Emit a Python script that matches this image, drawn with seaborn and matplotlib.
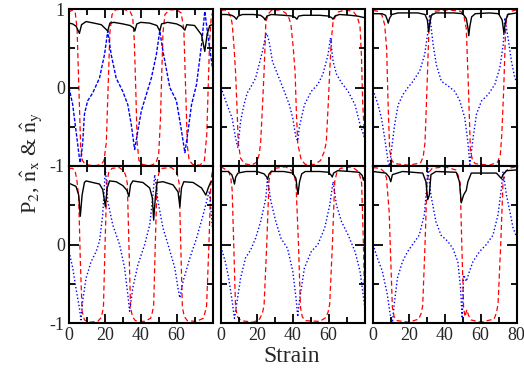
import pandas as pd
import seaborn as sns
import matplotlib
matplotlib.use("Agg")
import matplotlib.pyplot as plt
from matplotlib.ticker import MultipleLocator

# ---- painel (a): cima, esquerda ----
strain_p2_a = [0, 2, 4, 5.8, 7, 9.5, 14, 18, 19.8, 21.6, 22.8, 25, 30, 34, 36, 36.7, 37.8, 40, 45, 49,
               50.6, 51.6, 55, 60, 62.7, 64.6, 65.6, 70, 73.9, 75.7, 77, 78.5, 80]
p2_a = [0.82, 0.81, 0.78, 0.69, 0.8, 0.84, 0.82, 0.8, 0.76, 0.72, 0.82, 0.83, 0.81, 0.79, 0.76, 0.72, 0.81, 0.83, 0.82, 0.79,
        0.72, 0.81, 0.83, 0.81, 0.78, 0.73, 0.8, 0.79, 0.67, 0.46, 0.68, 0.79, 0.8]
strain_nx_a = [0, 2, 3.5, 4.5, 5.5, 6.5, 7.5, 9, 14, 18, 19.5, 20.8, 21.8, 22.8, 24, 26, 30, 34, 35.5, 36.4,
               37.2, 38, 39, 41, 45, 48.5, 50, 51, 51.6, 52.4, 53.5, 56, 60, 62.5, 64, 65, 66, 67, 69, 73,
               75.5, 76.8, 77.6, 78.4, 79.3, 80]
nx_a = [0.96, 0.99, 0.95, 0.75, 0.0, -0.75, -0.93, -0.98, -1.0, -0.98, -0.93, -0.7, 0.0, 0.7, 0.93, 0.99, 1.0, 0.97, 0.9, 0.6,
        0.0, -0.7, -0.93, -0.98, -1.0, -0.96, -0.85, -0.4, 0.1, 0.7, 0.93, 0.99, 0.99, 0.95, 0.75, 0.0, -0.75, -0.93, -0.98, -0.99,
        -0.93, -0.6, 0.0, 0.6, 0.9, 0.95]
strain_ny_a = [0, 2, 3.9, 5.8, 6.3, 7.6, 8.6, 10.4, 13.2, 17, 19.8, 21.6, 23.5, 26.3, 30, 32.8, 34.7, 36.6, 38.4, 40.3,
               43.1, 45.9, 48.7, 50.6, 52.4, 56.2, 59.9, 62.7, 64.6, 66.4, 68.3, 71.1, 73.9, 75.7, 77.5, 80]
ny_a = [0.0, -0.21, -0.55, -0.9, -0.96, -0.72, -0.34, -0.17, -0.07, 0.12, 0.42, 0.72, 0.42, 0.12, -0.05, -0.22, -0.47, -0.79, -0.55, -0.3,
        -0.09, 0.12, 0.42, 0.72, 0.46, 0.0, -0.17, -0.55, -0.83, -0.55, -0.22, 0.04, 0.55, 0.97, 0.65, 0.25]

# ---- painel (b): cima, meio ----
strain_p2_b = [0, 3, 6, 7.5, 8.6, 9.6, 12, 18, 22, 23.8, 24.6, 25.6, 28, 35, 40, 41.5, 42.3, 43.3, 46, 55,
               60, 61.7, 62.5, 63.5, 66, 72, 76, 78, 80]
p2_b = [0.93, 0.93, 0.92, 0.9, 0.87, 0.91, 0.93, 0.93, 0.92, 0.89, 0.86, 0.91, 0.93, 0.92, 0.91, 0.89, 0.87, 0.91, 0.92, 0.92,
        0.91, 0.89, 0.87, 0.91, 0.93, 0.92, 0.91, 0.9, 0.89]
strain_nx_b = [0, 2, 4, 5.5, 6.3, 7.3, 8.1, 9.0, 9.6, 10.9, 13, 17, 20, 21.3, 22.1, 23.2, 24, 24.5, 25, 26.5,
               28, 33, 36, 38, 39, 40.3, 41.3, 42, 42.8, 44.7, 47, 52, 55.5, 57.5, 58.7, 59.8, 60.6, 61.5, 62.5, 65,
               70, 74, 76, 77.5, 78.3, 79, 80]
nx_b = [0.98, 0.99, 0.96, 0.9, 0.8, 0.5, 0.2, -0.3, -0.7, -0.9, -0.97, -0.99, -0.95, -0.85, -0.7, -0.2, 0.2, 0.5, 0.84, 0.94,
        0.98, 0.99, 0.95, 0.88, 0.8, 0.5, 0.2, -0.3, -0.72, -0.92, -0.98, -0.98, -0.93, -0.82, -0.7, -0.2, 0.2, 0.6, 0.84, 0.96,
        0.99, 0.96, 0.9, 0.78, 0.4, -0.2, -0.64]
strain_ny_b = [0, 3.4, 6.2, 8.1, 9.4, 10.9, 12.8, 14.6, 16.5, 19.3, 21.2, 23.1, 25, 25.5, 26.8, 28.7, 31.5, 35.3, 38.1, 40,
               41.8, 42.8, 43.7, 46.5, 50.3, 54, 56.8, 59.7, 61, 62.5, 64.4, 67.2, 70.9, 74.7, 77.5, 80]
ny_b = [0.0, -0.22, -0.39, -0.64, -0.77, -0.43, -0.22, -0.07, 0.0, 0.12, 0.29, 0.46, 0.67, 0.69, 0.59, 0.33, 0.17, -0.05, -0.22, -0.39,
        -0.64, -0.68, -0.5, -0.22, -0.05, 0.04, 0.17, 0.42, 0.63, 0.33, 0.17, 0.06, -0.05, -0.22, -0.47, -0.64]

# ---- painel (c): cima, direita ----
strain_p2_c = [0, 5, 7, 8.0, 8.5, 9.2, 10.5, 14, 25, 29, 30.3, 31, 31.6, 32.5, 35, 45, 50, 52, 53, 53.4,
               54, 55, 57, 65, 70, 72, 73, 73.7, 75, 80]
p2_c = [0.94, 0.94, 0.92, 0.86, 0.82, 0.88, 0.93, 0.95, 0.95, 0.93, 0.86, 0.71, 0.8, 0.92, 0.95, 0.95, 0.94, 0.88, 0.75, 0.66,
        0.78, 0.9, 0.94, 0.95, 0.94, 0.86, 0.69, 0.82, 0.93, 0.95]
strain_nx_c = [0, 3, 5, 6.5, 7.6, 8.4, 9.3, 10.5, 12, 20, 26.5, 28, 29, 30.1, 31.2, 32.2, 34, 42, 49, 50.8,
               52, 53.2, 54.3, 55.5, 57, 65, 69.5, 71, 71.8, 72.9, 74, 75.3, 77, 80]
nx_c = [0.98, 0.97, 0.92, 0.8, 0.5, -0.2, -0.8, -0.93, -0.97, -0.99, -0.96, -0.88, -0.7, 0.0, 0.75, 0.9, 0.97, 0.99, 0.97, 0.9,
        0.75, 0.0, -0.8, -0.93, -0.97, -0.99, -0.95, -0.85, -0.6, 0.0, 0.8, 0.93, 0.97, 0.99]
strain_ny_c = [0, 2.8, 4.7, 6.5, 8.4, 9.3, 10.2, 12.1, 14, 16.7, 19.5, 22.3, 26, 28.8, 30.7, 31.6, 33.5, 35.3, 38.1, 41.9,
               45.6, 48.4, 51.2, 53, 54, 55.8, 57.7, 60.5, 64.2, 67.9, 70.7, 72.6, 73.5, 75.3, 77.2, 79.1, 80]
ny_c = [-0.03, -0.22, -0.39, -0.64, -0.94, -1.0, -0.81, -0.47, -0.22, -0.09, 0.0, 0.08, 0.21, 0.42, 0.72, 0.93, 0.55, 0.29, 0.08, 0.02,
        -0.05, -0.17, -0.39, -0.72, -0.98, -0.64, -0.34, -0.17, -0.09, 0.04, 0.25, 0.55, 0.89, 0.63, 0.33, 0.12, 0.08]

# ---- painel (d): baixo, esquerda ----
strain_p2_d = [0, 2, 3.9, 5.4, 6.3, 7.3, 8.6, 9.5, 13.2, 17, 18.8, 20.3, 21.3, 22.6, 26.3, 30, 32.3, 33.4, 34.3, 35.6,
               41.2, 45, 46.5, 47.2, 48.1, 49.1, 52.4, 58, 60.8, 61.8, 62.7, 64, 69.2, 73.9, 76.3, 77.6, 78.9, 80]
p2_d = [0.78, 0.76, 0.74, 0.63, 0.36, 0.63, 0.79, 0.81, 0.79, 0.77, 0.7, 0.48, 0.72, 0.81, 0.8, 0.75, 0.69, 0.61, 0.76, 0.81,
        0.79, 0.72, 0.59, 0.31, 0.59, 0.79, 0.8, 0.76, 0.67, 0.48, 0.72, 0.8, 0.79, 0.72, 0.63, 0.72, 0.79, 0.81]
strain_nx_d = [0, 2, 3.5, 4.5, 5.4, 6.3, 7.3, 8.6, 11, 16, 18, 19.2, 20.1, 21.1, 22.2, 24, 28, 30.5, 31.6, 32.5,
               33.4, 34.3, 35.4, 37, 42, 45.5, 46.4, 47.2, 48.1, 49.1, 50.2, 52, 57, 59.5, 60.5, 61.4, 62.3, 63.2, 64.3, 66,
               71, 74.8, 75.8, 76.7, 78, 79.1, 80]
nx_d = [0.97, 0.97, 0.93, 0.8, 0.6, -0.2, -0.85, -0.96, -0.99, -0.98, -0.93, -0.8, 0.0, 0.8, 0.92, 0.97, 0.98, 0.94, 0.88, 0.78,
        0.0, -0.8, -0.92, -0.97, -0.98, -0.94, -0.87, -0.78, 0.0, 0.8, 0.92, 0.97, 0.98, 0.94, 0.88, 0.78, 0.0, -0.8, -0.92, -0.97,
        -0.98, -0.94, -0.87, -0.78, 0.0, 0.8, 0.95]
strain_ny_d = [0, 2.1, 3.9, 5.8, 6.7, 7.6, 9.5, 12.3, 15.1, 17, 18.8, 20.3, 21.6, 24.4, 28.2, 31, 32.8, 33.8, 35.6, 38.4,
               42.2, 45, 46.8, 47.8, 49.6, 52.4, 55.2, 59, 60.8, 61.8, 63.6, 67.4, 71.1, 74.8, 77.6, 78.3, 80]
ny_d = [-0.09, -0.3, -0.56, -0.81, -0.96, -0.72, -0.43, -0.22, -0.09, 0.04, 0.38, 0.97, 0.55, 0.25, 0.0, -0.3, -0.64, -0.85, -0.55, -0.26,
        0.0, 0.25, 0.63, 0.89, 0.55, 0.21, 0.0, -0.3, -0.56, -0.68, -0.47, -0.17, 0.08, 0.38, 0.63, 0.68, 0.2]

# ---- painel (e): baixo, meio ----
strain_p2_e = [0, 4, 6, 7.0, 7.5, 8.2, 9.5, 14, 20, 24, 25.5, 26, 26.8, 28, 35, 40, 41.8, 42.5, 42.9, 43.8,
               45, 47, 55, 60, 61.5, 62, 62.8, 65, 72, 77, 78.7, 79.4, 80]
p2_e = [0.93, 0.93, 0.89, 0.82, 0.77, 0.86, 0.91, 0.93, 0.93, 0.9, 0.86, 0.83, 0.9, 0.93, 0.93, 0.91, 0.84, 0.7, 0.64, 0.8,
        0.9, 0.93, 0.93, 0.92, 0.88, 0.86, 0.91, 0.94, 0.93, 0.92, 0.88, 0.82, 0.86]
strain_nx_e = [0, 1.5, 4.3, 5.5, 6.2, 7.1, 8.1, 9.2, 11, 18, 21.5, 23, 24, 25.5, 26.8, 28, 30, 36, 39.5, 40.8,
               41.8, 43.2, 44.3, 45.3, 47, 55, 58.5, 59.7, 60.6, 62.1, 63.4, 64.6, 66.5, 73, 76.5, 77.6, 78.4, 79.4, 80]
nx_e = [0.99, 0.97, 0.93, 0.84, 0.7, 0.0, -0.8, -0.92, -0.97, -0.99, -0.95, -0.88, -0.78, 0.0, 0.82, 0.93, 0.97, 0.99, 0.94, 0.88,
        0.78, 0.0, -0.8, -0.92, -0.97, -0.98, -0.93, -0.86, -0.76, 0.0, 0.8, 0.92, 0.97, 0.99, 0.93, 0.86, 0.78, 0.0, -0.64]
strain_ny_e = [0, 2.4, 4.3, 6.2, 7.5, 9, 10.9, 13.7, 16.5, 19.3, 22.1, 25, 25.9, 27.8, 30.6, 33.4, 37.1, 40, 41.8, 42.8,
               43.7, 46.5, 50.3, 54, 57.8, 60.6, 62.5, 64.4, 67.2, 70.9, 74.7, 77.5, 80]
ny_e = [-0.03, -0.22, -0.43, -0.72, -0.94, -0.72, -0.43, -0.17, -0.07, 0.08, 0.29, 0.59, 0.84, 0.55, 0.29, 0.08, -0.05, -0.34, -0.68, -0.92,
        -0.72, -0.3, -0.09, 0.0, 0.21, 0.5, 0.8, 0.5, 0.29, 0.12, -0.09, -0.34, -0.77]

# ---- painel (f): baixo, direita ----
strain_p2_f = [0, 7.1, 9, 9.9, 10.8, 16.4, 27.7, 29.5, 30.5, 31.4, 32.3, 35.1, 46.4, 48.2, 49.2, 50.5, 52, 52.9, 54.8, 68.8,
               71.6, 72.5, 74.4, 80]
p2_f = [0.93, 0.91, 0.86, 0.8, 0.89, 0.93, 0.91, 0.8, 0.57, 0.63, 0.89, 0.93, 0.92, 0.8, 0.53, 0.63, 0.69, 0.8, 0.91, 0.91,
        0.84, 0.89, 0.94, 0.95]
strain_nx_f = [0, 4, 6, 7.5, 9, 9.9, 10.8, 11.8, 13.5, 20, 25.5, 26.8, 27.7, 29, 30.1, 31.2, 33, 40, 46.2, 47.5,
               48.6, 49.5, 50.5, 51.3, 52.3, 53.2, 54.5, 60, 67.5, 68.8, 69.7, 71.2, 72.5, 73.7, 75.5, 80]
nx_f = [0.98, 0.97, 0.93, 0.85, 0.42, -0.2, -0.8, -0.92, -0.97, -0.99, -0.95, -0.88, -0.78, 0.0, 0.8, 0.92, 0.97, 0.99, 0.95, 0.88,
        0.78, 0.0, -0.8, -0.92, -0.83, -0.9, -0.96, -0.99, -0.95, -0.87, -0.76, 0.0, 0.8, 0.92, 0.97, 0.99]
strain_ny_f = [0, 2.4, 5.2, 8, 9.9, 10.8, 11.8, 13.6, 16.4, 19.3, 22.1, 25.8, 28.6, 29.9, 30.5, 32.3, 35.1, 37.9, 41.7, 44.5,
               47.3, 48.8, 49.7, 50.5, 51.4, 52, 53.8, 55.7, 59.4, 63.2, 66.9, 69.7, 71.6, 72.5, 74.4, 76.3, 78.1, 80]
ny_f = [0.0, -0.17, -0.34, -0.64, -0.94, -1.0, -0.77, -0.43, -0.22, -0.09, 0.0, 0.12, 0.38, 0.72, 0.97, 0.63, 0.29, 0.12, 0.04, -0.05,
        -0.22, -0.55, -0.94, -0.39, -0.43, -0.47, -0.34, -0.22, -0.09, 0.0, 0.12, 0.38, 0.72, 0.93, 0.63, 0.42, 0.21, 0.1]

x_ticks = [0, 20, 40, 60, 80]
y_ticks = [-1, 0, 1]

paineis = [
    (strain_p2_a, p2_a, strain_nx_a, nx_a, strain_ny_a, ny_a),
    (strain_p2_b, p2_b, strain_nx_b, nx_b, strain_ny_b, ny_b),
    (strain_p2_c, p2_c, strain_nx_c, nx_c, strain_ny_c, ny_c),
    (strain_p2_d, p2_d, strain_nx_d, nx_d, strain_ny_d, ny_d),
    (strain_p2_e, p2_e, strain_nx_e, nx_e, strain_ny_e, ny_e),
    (strain_p2_f, p2_f, strain_nx_f, nx_f, strain_ny_f, ny_f),
]

sns.set_theme(style="ticks")
plt.rcParams['font.family'] = ['Liberation Serif', 'DejaVu Serif']
plt.rcParams['mathtext.fontset'] = 'stix'
plt.rcParams['axes.axisbelow'] = False

W, H = 524, 369
fig = plt.figure(figsize=(W / 100, H / 100), dpi=100)

lefts = [69, 221, 373]
tops = [9, 166]
aw, ah = 143.5, 157

for i, (sp, p2, sx, nx, sy, ny) in enumerate(paineis):
    r, c = divmod(i, 3)
    ax = fig.add_axes([lefts[c] / W, 1 - (tops[r] + ah) / H, aw / W, ah / H])

    df_nx = pd.DataFrame({'Strain': sx, 'v': nx})
    df_ny = pd.DataFrame({'Strain': sy, 'v': ny})
    df_p2 = pd.DataFrame({'Strain': sp, 'v': p2})

    sns.lineplot(data=df_nx, x='Strain', y='v', ax=ax, color='#ff0000', linewidth=0.9,
                 linestyle=(0, (4, 2.5)), estimator=None, sort=False, zorder=1)
    blue_ls = (0, (2.5, 1.2)) if i == 0 else (0, (1, 1.6))
    sns.lineplot(data=df_ny, x='Strain', y='v', ax=ax, color='#0000ff', linewidth=1.0,
                 linestyle=blue_ls, estimator=None, sort=False, zorder=1)
    sns.lineplot(data=df_p2, x='Strain', y='v', ax=ax, color='black', linewidth=1.0,
                 estimator=None, sort=False, zorder=1.5)

    ax.set_xlim(0, 80)
    ax.set_ylim(-1, 1)
    ax.set_xlabel('')
    ax.set_ylabel('')
    ax.set_xticks(x_ticks)
    ax.set_yticks(y_ticks)
    ax.xaxis.set_minor_locator(MultipleLocator(10))
    ax.yaxis.set_minor_locator(MultipleLocator(0.5))

    if r == 1:
        xl = ['0', '20', '40', '60', '80'] if c == 2 else ['0', '20', '40', '60', '']
    else:
        xl = [''] * 5
    ax.set_xticklabels(xl, fontsize=13)
    if c == 0:
        yl = ['-1', '0', '1'] if r == 0 else ['-1', '0', '']
    else:
        yl = [''] * 3
    ax.set_yticklabels(yl, fontsize=13)

    # ticks para dentro nos quatro lados (estilo xmgrace), por cima das curvas
    ax.tick_params(axis='both', which='both', direction='in', bottom=True, top=True, left=True, right=True,
                   color='black', width=1.3, pad=3)
    ax.tick_params(axis='x', which='major', length=6.5)
    ax.tick_params(axis='x', which='minor', length=4)
    ax.tick_params(axis='y', which='major', length=7.5)
    ax.tick_params(axis='y', which='minor', length=4)
    ax.xaxis.set_zorder(5)
    ax.yaxis.set_zorder(5)
    for s in ax.spines.values():
        s.set_linewidth(1.5)
        s.set_color('black')

fig.text(292 / W, 1 - 357 / H, 'Strain', fontsize=17, ha='center', va='center')
fig.text(31 / W, 1 - 163 / H, r'P$_2$, $\hat{\mathrm{n}}_\mathrm{x}$ & $\hat{\mathrm{n}}_\mathrm{y}$',
         fontsize=16, rotation=90, ha='center', va='center')

fig.savefig('out.png', dpi=100)
